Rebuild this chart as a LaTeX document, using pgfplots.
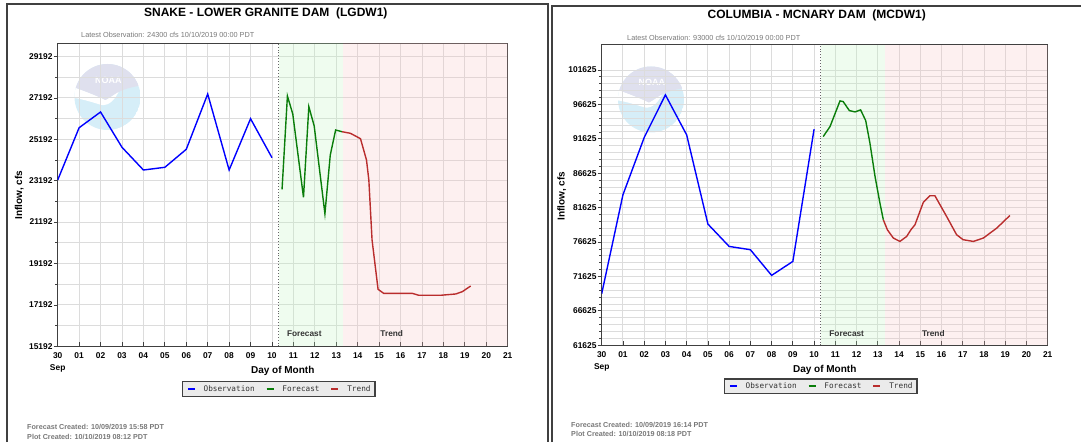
\documentclass[border=0pt]{standalone}
\usepackage{pgfplots}
\pgfplotsset{compat=1.18}
\usepackage{fontspec}
\setmainfont{Liberation Sans}
\newfontfamily\legfont{DejaVu Sans Mono}

\definecolor{obs}{RGB}{0,0,255}
\definecolor{fcst}{RGB}{10,125,10}
\definecolor{trend}{RGB}{185,45,45}
\definecolor{gridc}{RGB}{220,220,220}
\definecolor{fgreen}{RGB}{190,245,190}
\definecolor{fred}{RGB}{247,195,195}
\definecolor{framec}{RGB}{64,64,64}
\definecolor{txtgray}{RGB}{120,120,120}
\definecolor{legbg}{RGB}{235,235,235}
\definecolor{noaatop}{RGB}{223,224,238}
\definecolor{noaabot}{RGB}{214,238,248}

% watermark logo, centre in pt
\newcommand\noaalogo[2]{%
  \begin{scope}[shift={(#1pt,#2pt)}, x=1pt, y=1pt]
    \clip (0,0) circle (33);
    \fill[noaabot] (0,0) circle (33);
    \fill[white] (-40,12) .. controls (-28,8) and (-12,2) .. (-2,-3)
      .. controls (4,0) and (9,4) .. (12,7)
      .. controls (8,-2) and (2,-9) .. (-6,-8)
      .. controls (-16,-5) and (-28,-1) .. (-40,0) -- cycle;
    \fill[noaatop] (-40,12) .. controls (-28,8) and (-12,2) .. (-2,-3)
      .. controls (4,0) and (12,10) .. (40,12) -- (40,40) -- (-40,40) -- cycle;
    \node[white, font=\bfseries\fontsize{9}{9}\selectfont] at (0.8,17) {NOAA};
  \end{scope}}

\pgfplotsset{
  obsline/.style={obs, line width=1.4pt,
    legend image code/.code={\draw[obs, line width=1.8pt] (0pt,0pt) -- (7pt,0pt);}},
  fcstline/.style={fcst, line width=1.4pt,
    legend image code/.code={\draw[fcst, line width=1.8pt] (0pt,0pt) -- (7pt,0pt);}},
  trendline/.style={trend, line width=1.4pt,
    legend image code/.code={\draw[trend, line width=1.8pt] (0pt,0pt) -- (7pt,0pt);}},
  riverchart/.style={
    scale only axis, anchor=south west,
    xmin=0, xmax=21,
    xtick={0,...,21},
    xticklabels={{30\\Sep},01,02,03,04,05,06,07,08,09,10,11,12,13,14,15,16,17,18,19,20,21},
    axis line style={framec, line width=1.2pt},
    grid=both,
    major grid style={gridc, line width=0.9pt},
    minor grid style={gridc, line width=0.9pt},
    xtick pos=bottom, ytick pos=left,
    xtick align=inside, ytick align=outside,
    major tick length=4pt, minor tick length=2.5pt,
    tick style={framec, line width=0.8pt},
    scaled y ticks=false,
    /pgf/number format/assume math mode=true,
    ticklabel style={font=\bfseries\fontsize{8.4}{11.7}\selectfont},
    xticklabel style={align=center, yshift=-3pt},
    yticklabel style={inner xsep=1pt, /pgf/number format/fixed,
      /pgf/number format/precision=0, /pgf/number format/1000 sep={}},
    legend columns=3,
    legend style={anchor=north, xshift=-4pt,
      fill=legbg, draw=framec, line width=1.2pt,
      font=\legfont\fontsize{7.7}{9}\selectfont, text=black!80,
      inner xsep=4.5pt, inner ysep=4.2pt,
      nodes={inner xsep=0pt, inner ysep=0pt, text height=5.6pt, text depth=0.6pt},
      /tikz/every odd column/.append style={column sep=8pt},
      /tikz/every even column/.append style={column sep=11pt}},
  }
}

\begin{document}
\begin{tikzpicture}[x=1pt, y=1pt]
\useasboundingbox (0,0) rectangle (1081,442);

% frames
\draw[framec, line width=1.3pt] (7,0) -- (7,438) -- (548,438) -- (548,0);
\draw[framec, line width=1.3pt] (552,0) -- (552,436) -- (1081,436);

\noaalogo{107.5}{345}
\noaalogo{651}{342.5}

% ---------- left: Snake, Lower Granite ----------
\begin{axis}[riverchart, at={(57.7pt,95.7pt)}, width=450pt, height=303pt,
  ymin=15192, ymax=29830,
  ytick={15192,17192,19192,21192,23192,25192,27192,29192},
  minor y tick num=1,
  legend style={at={(0.5,-0.1145)}}]
\addplot[fill=fgreen, fill opacity=0.25, draw=none, forget plot]
  coordinates {(10.31,15192) (13.33,15192) (13.33,29830) (10.31,29830)} -- cycle;
\addplot[fill=fred, fill opacity=0.25, draw=none, forget plot]
  coordinates {(13.33,15192) (21,15192) (21,29830) (13.33,29830)} -- cycle;
\addplot[framec!80, dotted, line width=0.9pt, forget plot]
  coordinates {(10.31,15192) (10.31,29830)};
\addplot[obsline] coordinates {
  (0,23226) (1,25752) (2,26511) (3,24806) (4,23709) (5,23839)
  (6,24709) (7,27380) (8,23709) (9,26187) (10,24303)};
\addlegendentry{Observation}
\addplot[fcstline] coordinates {
  (10.47,22777) (10.72,27284) (10.97,26414) (11.47,22390) (11.72,26767)
  (11.97,25835) (12.47,21598) (12.72,24434) (12.97,25641) (13.27,25559)};
\addlegendentry{Forecast}
\addplot[trendline] coordinates {
  (13.27,25559) (13.66,25482) (14.13,25221) (14.41,24192) (14.52,23226)
  (14.67,20327) (14.95,17946) (15.21,17752) (16.54,17752) (16.85,17656)
  (17.86,17656) (18.57,17719) (18.88,17830) (19.27,18105)};
\addlegendentry{Trend}
\end{axis}

% ---------- right: Columbia, McNary ----------
\begin{axis}[riverchart, at={(601.7pt,96.7pt)}, width=446pt, height=300.6pt,
  ymin=61625, ymax=105296,
  ytick={61625,66625,71625,76625,81625,86625,91625,96625,101625},
  minor y tick num=4,
  legend style={at={(0.5,-0.11)}}]
\addplot[fill=fgreen, fill opacity=0.25, draw=none, forget plot]
  coordinates {(10.31,61625) (13.33,61625) (13.33,105296) (10.31,105296)} -- cycle;
\addplot[fill=fred, fill opacity=0.25, draw=none, forget plot]
  coordinates {(13.33,61625) (21,61625) (21,105296) (13.33,105296)} -- cycle;
\addplot[framec!80, dotted, line width=0.9pt, forget plot]
  coordinates {(10.31,61625) (10.31,105296)};
\addplot[obsline] coordinates {
  (0,69126) (1,83491) (2,91805) (3,98000) (4,92196) (5,79240)
  (6,75990) (7,75511) (8,71782) (9,73813) (10,93023)};
\addlegendentry{Observation}
\addplot[fcstline] coordinates {
  (10.43,91950) (10.75,93400) (11.22,97130) (11.37,97030) (11.66,95723)
  (11.93,95534) (12.19,95825) (12.43,94272) (12.63,90993) (12.87,86146)
  (13.10,82287) (13.26,79864)};
\addlegendentry{Forecast}
\addplot[trendline] coordinates {
  (13.26,79864) (13.45,78413) (13.73,77209) (14.04,76715) (14.36,77441)
  (14.56,78413) (14.75,79138) (15.14,82374) (15.45,83346) (15.69,83346)
  (16.24,80343) (16.71,77687) (17.02,76962) (17.50,76715) (17.97,77209)
  (18.60,78650) (19.22,80488)};
\addlegendentry{Trend}
\end{axis}

% ---------- texts ----------
\begin{scope}[every node/.style={inner sep=0pt}]
\node[font=\bfseries\fontsize{12}{14}\selectfont] at (265.8,428.7) {SNAKE - LOWER GRANITE DAM~~(LGDW1)};
\node[anchor=west, text=txtgray, font=\fontsize{7.3}{9}\selectfont] at (81,407.5) {Latest Observation: 24300 cfs 10/10/2019 00:00 PDT};
\node[rotate=90, font=\bfseries\fontsize{10}{12}\selectfont] at (19.3,247) {Inflow, cfs};
\node[font=\bfseries\fontsize{10}{12}\selectfont] at (282.7,71) {Day of Month};
\node[text=black!80, font=\bfseries\fontsize{8.3}{10}\selectfont] at (304.3,108) {Forecast};
\node[text=black!80, font=\bfseries\fontsize{8.3}{10}\selectfont] at (391.7,108) {Trend};
\node[anchor=west, text=txtgray, font=\bfseries\fontsize{7.2}{9}\selectfont] at (27,15) {Forecast Created: 10/09/2019 15:58 PDT};
\node[anchor=west, text=txtgray, font=\bfseries\fontsize{7.2}{9}\selectfont] at (27,5.3) {Plot Created: 10/10/2019 08:12 PDT};

\node[font=\bfseries\fontsize{12}{14}\selectfont] at (816.7,427) {COLUMBIA - MCNARY DAM~~(MCDW1)};
\node[anchor=west, text=txtgray, font=\fontsize{7.3}{9}\selectfont] at (627,404.5) {Latest Observation: 93000 cfs 10/10/2019 00:00 PDT};
\node[rotate=90, font=\bfseries\fontsize{10}{12}\selectfont] at (561.7,246) {Inflow, cfs};
\node[font=\bfseries\fontsize{10}{12}\selectfont] at (824.7,72) {Day of Month};
\node[text=black!80, font=\bfseries\fontsize{8.3}{10}\selectfont] at (846.7,108.7) {Forecast};
\node[text=black!80, font=\bfseries\fontsize{8.3}{10}\selectfont] at (933.3,108.7) {Trend};
\node[anchor=west, text=txtgray, font=\bfseries\fontsize{7.2}{9}\selectfont] at (571,17) {Forecast Created: 10/09/2019 16:14 PDT};
\node[anchor=west, text=txtgray, font=\bfseries\fontsize{7.2}{9}\selectfont] at (571,7.7) {Plot Created: 10/10/2019 08:18 PDT};
\end{scope}
\end{tikzpicture}
\end{document}
